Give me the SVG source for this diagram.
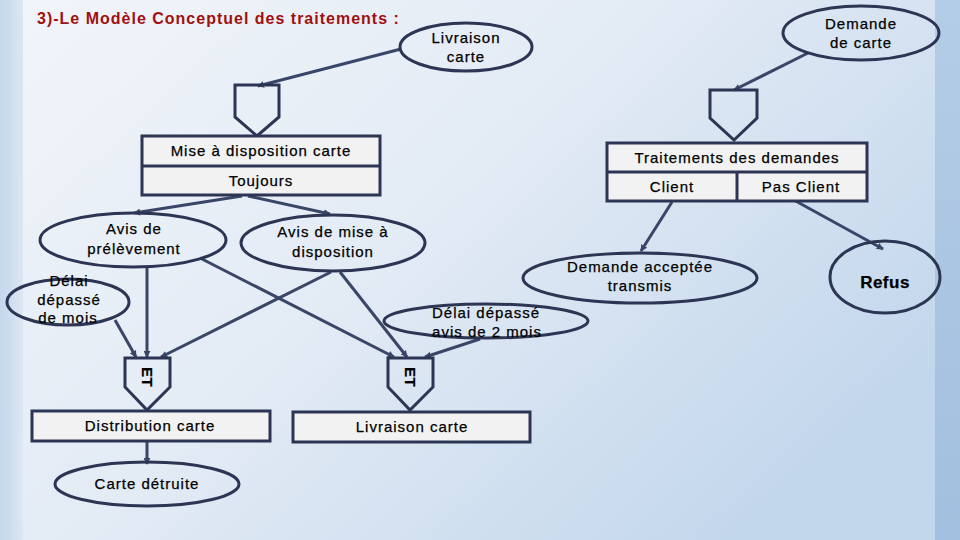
<svg xmlns="http://www.w3.org/2000/svg" width="960" height="540" viewBox="0 0 960 540">
<defs>
<linearGradient id="bg" x1="0" y1="0" x2="1" y2="0.6">
<stop offset="0" stop-color="#f2f5fa"/>
<stop offset="0.5" stop-color="#e3ebf5"/>
<stop offset="1" stop-color="#c3d7ec"/>
</linearGradient>
<linearGradient id="lstrip" x1="0" y1="0" x2="1" y2="0">
<stop offset="0" stop-color="#c4d7ec"/>
<stop offset="1" stop-color="#dce7f3"/>
</linearGradient>
<linearGradient id="rstrip" x1="0" y1="0" x2="0" y2="1">
<stop offset="0" stop-color="#b4cde6"/>
<stop offset="1" stop-color="#a2bfdf"/>
</linearGradient>
<marker id="ah" viewBox="0 0 8 8" refX="7" refY="4" markerWidth="7" markerHeight="7" markerUnits="userSpaceOnUse" orient="auto">
<path d="M0,0 L8,4 L0,8 z" fill="#3a4668"/>
</marker>
<style>
.ell{fill:none;stroke:#2c3553;stroke-width:3}
.box{fill:#f2f2f3;stroke:#2c3553;stroke-width:3}
.pent{fill:none;stroke:#2c3553;stroke-width:3;stroke-linejoin:miter}
.con{fill:none;stroke:#3a4668;stroke-width:3;marker-end:url(#ah)}
text{font-family:"Liberation Sans",Arial,sans-serif;font-size:15px;letter-spacing:1px;fill:#000;stroke:#000;stroke-width:0.25;text-anchor:middle}
.b{font-weight:bold;letter-spacing:0.5px}
.title{font-size:16px;font-weight:bold;fill:#a0100f;stroke:none;letter-spacing:1px;text-anchor:start}
</style>
</defs>
<rect x="0" y="0" width="960" height="540" fill="url(#bg)"/>
<rect x="0" y="0" width="23" height="540" fill="url(#lstrip)"/>
<rect x="935" y="0" width="25" height="540" fill="url(#rstrip)"/>
<text class="title" x="37" y="24">3)-Le Modèle Conceptuel des traitements :</text>

<g id="connectors">
<line class="con" x1="401" y1="49" x2="258" y2="86"/>
<line class="con" x1="808" y1="53" x2="734" y2="90"/>
<line class="con" x1="242" y1="196" x2="134" y2="213"/>
<line class="con" x1="248" y1="196" x2="330" y2="214"/>
<line class="con" x1="672" y1="202" x2="641" y2="251"/>
<line class="con" x1="792" y1="199" x2="883" y2="249"/>
<line class="con" x1="115" y1="320" x2="136" y2="357"/>
<line class="con" x1="147" y1="267" x2="147" y2="357"/>
<line class="con" x1="331" y1="272" x2="161" y2="357"/>
<line class="con" x1="200" y1="258" x2="394" y2="357"/>
<line class="con" x1="340" y1="272" x2="407" y2="357"/>
<line class="con" x1="480" y1="339" x2="425" y2="357"/>
<line class="con" x1="147" y1="441" x2="147" y2="464"/>
</g>

<g id="livraison-carte-event">
<ellipse class="ell" cx="466" cy="47" rx="66" ry="24"/>
<text x="466" y="43">Livraison</text>
<text x="466" y="62">carte</text>
</g>
<g id="demande-carte-event">
<ellipse class="ell" cx="861" cy="33" rx="78" ry="27"/>
<text x="861" y="29">Demande</text>
<text x="861" y="48">de carte</text>
</g>
<g id="sync-mise">
<polygon class="pent" points="235,85 279,85 279,117 257,136 235,117"/>
</g>
<g id="sync-traitements">
<polygon class="pent" points="710,90 757,90 757,118 734,140 710,118"/>
</g>
<g id="mise-disposition">
<rect class="box" x="142" y="136" width="238" height="59"/>
<line x1="142" y1="166" x2="380" y2="166" stroke="#2c3553" stroke-width="3"/>
<text x="261" y="156">Mise à disposition carte</text>
<text x="261" y="186">Toujours</text>
</g>
<g id="traitements-demandes">
<rect class="box" x="607" y="143" width="260" height="58"/>
<line x1="607" y1="172" x2="867" y2="172" stroke="#2c3553" stroke-width="3"/>
<line x1="737" y1="172" x2="737" y2="201" stroke="#2c3553" stroke-width="3"/>
<text x="737" y="163">Traitements des demandes</text>
<text x="672" y="192">Client</text>
<text x="801" y="192">Pas Client</text>
</g>
<g id="avis-prelevement">
<ellipse class="ell" cx="133" cy="240" rx="93" ry="27"/>
<text x="134" y="234">Avis de</text>
<text x="134" y="254">prélèvement</text>
</g>
<g id="avis-mise-disposition">
<ellipse class="ell" cx="333" cy="243" rx="92" ry="28"/>
<text x="333" y="237">Avis de mise à</text>
<text x="333" y="257">disposition</text>
</g>
<g id="delai-depasse-mois">
<ellipse class="ell" cx="68" cy="302" rx="61" ry="23"/>
<text x="69" y="286">Délai</text>
<text x="69" y="305">dépassé</text>
<text x="68" y="323">de mois</text>
</g>
<g id="demande-acceptee">
<ellipse class="ell" cx="640" cy="278" rx="117" ry="25"/>
<text x="640" y="272">Demande acceptée</text>
<text x="640" y="291">transmis</text>
</g>
<g id="refus">
<ellipse class="ell" cx="885" cy="277" rx="55" ry="36"/>
<text class="b" x="885" y="288" style="font-size:17px">Refus</text>
</g>
<g id="delai-depasse-2-mois">
<ellipse class="ell" cx="486" cy="321" rx="102" ry="17"/>
<text x="486" y="318">Délai dépassé</text>
<text x="487" y="337">avis de 2 mois</text>
</g>
<g id="et-distribution">
<polygon class="pent" points="125,358 170,358 170,387 147,410 125,387"/>
<text class="b" x="0" y="0" transform="translate(142,377) rotate(90)" style="font-size:15px">ET</text>
</g>
<g id="et-livraison">
<polygon class="pent" points="388,358 433,358 433,387 410,410 388,387"/>
<text class="b" x="0" y="0" transform="translate(405,377) rotate(90)" style="font-size:15px">ET</text>
</g>
<g id="distribution-carte">
<rect class="box" x="32" y="411" width="238" height="30"/>
<text x="150" y="431">Distribution carte</text>
</g>
<g id="livraison-carte">
<rect class="box" x="293" y="412" width="237" height="30"/>
<text x="412" y="432">Livraison carte</text>
</g>
<g id="carte-detruite">
<ellipse class="ell" cx="147" cy="484" rx="92" ry="22"/>
<text x="147" y="489">Carte détruite</text>
</g>
</svg>
